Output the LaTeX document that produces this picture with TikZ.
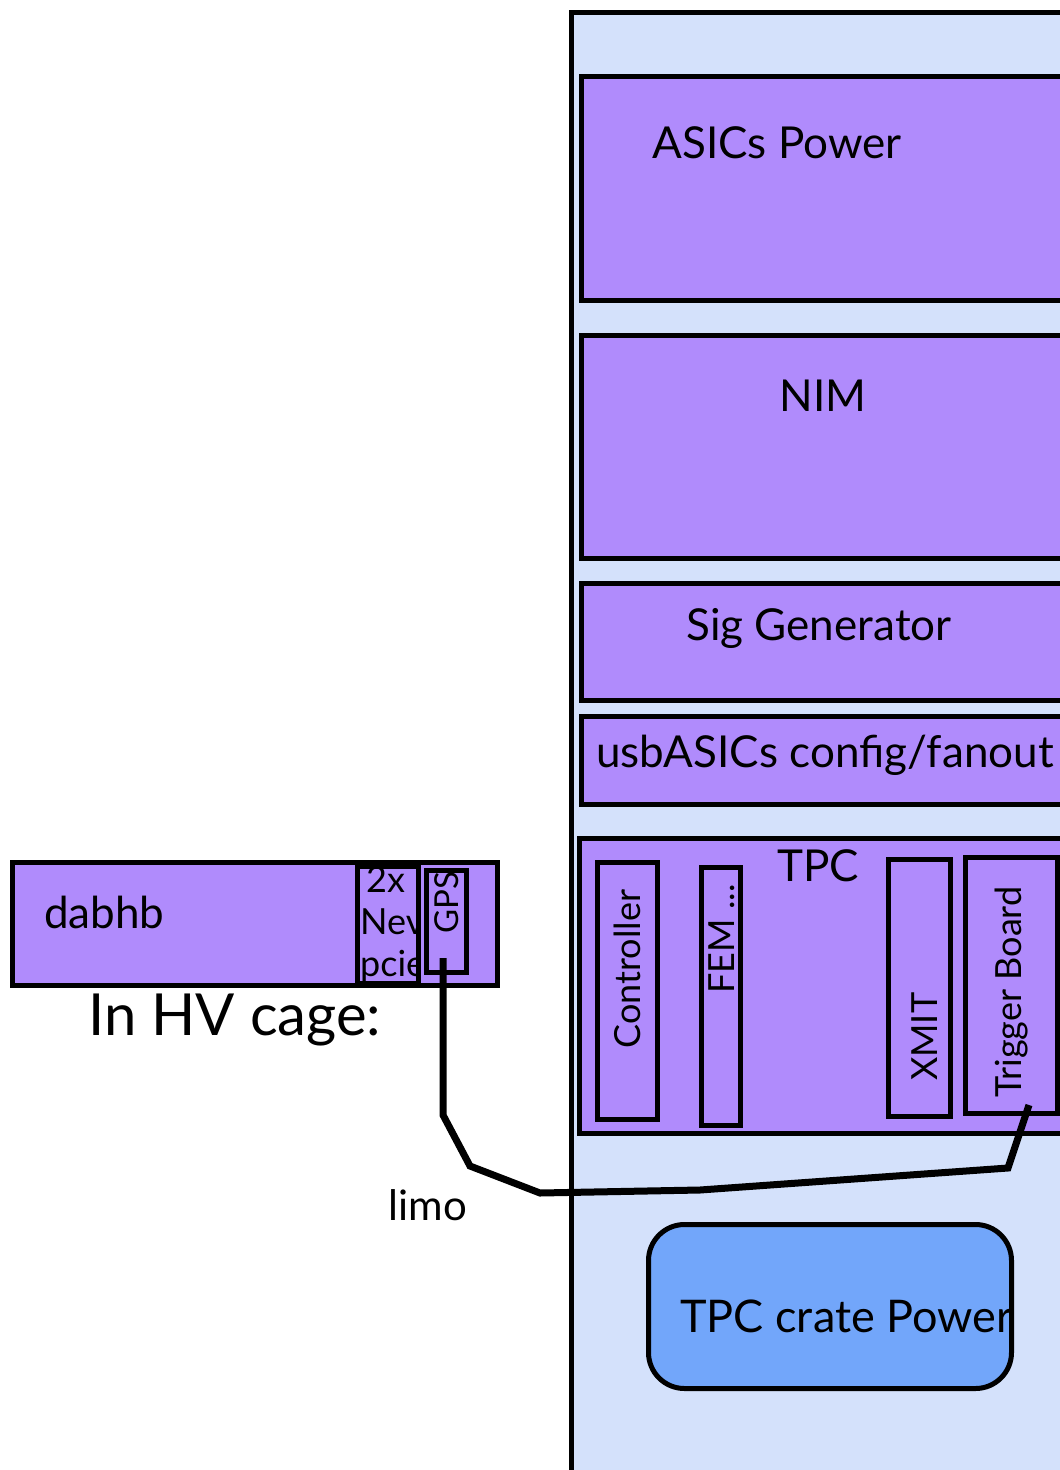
\documentclass[tikz,border=0pt]{standalone}
\usepackage{fontspec}
\setmainfont{Lato}
\definecolor{rackblue}{RGB}{212,225,251}
\definecolor{modpurple}{RGB}{176,139,252}
\definecolor{pwrblue}{RGB}{114,166,250}
\tikzset{
  box/.style={draw=black, line width=5pt, fill=modpurple, anchor=north west, inner sep=0pt, outer sep=0pt},
  lbl/.style={inner sep=0pt, font=\fontsize{44}{50}\selectfont},
  vlbl/.style={inner sep=0pt, rotate=90, font=\fontsize{36}{42}\selectfont},
  cable/.style={line width=7pt, line join=miter},
}
\begin{document}
\begin{tikzpicture}[x=1pt,y=-1pt]
\useasboundingbox (0,0) rectangle (1060,1470);
\clip (0,0) rectangle (1060,1470);
% rack
\node[box, fill=rackblue, minimum width=560, minimum height=1500] (rack) at (571,12) {};
% modules
\node[box, minimum width=500, minimum height=224] (asics) at (581,76) {};
\node[lbl] (asicst) at (777,143) {ASICs Power};
\node[box, minimum width=500, minimum height=223] (nim) at (581,335) {};
\node[lbl] (nimt) at (823,396) {NIM};
\node[box, minimum width=500, minimum height=117] (sig) at (581,583) {};
\node[lbl] (sigt) at (819,628) {Sig Generator};
\node[box, minimum width=500, minimum height=88] (usb) at (581,716) {};
\node[lbl] (usbt) at (825,755) {usbASICs config/fanout};
% TPC
\node[box, minimum width=500, minimum height=295] (tpc) at (579,838) {};
\node[lbl] (tpct) at (818,866) {TPC};
\node[box, minimum width=60, minimum height=257] (ctrl) at (597,862) {};
\node[vlbl] (ctrlt) at (627,969) {Controller};
\node[box, minimum width=39, minimum height=258] (fem) at (701,867) {};
\node[vlbl, anchor=west] (femt) at (722,994) {FEM ...};
\node[box, minimum width=62, minimum height=257] (xmit) at (888,859) {};
\node[vlbl, anchor=west] (xmitt) at (925,1081) {XMIT};
\node[box, minimum width=92, minimum height=256] (trig) at (965,857) {};
\node[vlbl, anchor=west] (trigt) at (1012,1098) {Trigger Board};
% TPC crate power
\node[draw=black, line width=5pt, fill=pwrblue, rounded corners=36pt, minimum width=363, minimum height=164, anchor=north west, inner sep=0pt] (pwr) at (646,1222) {};
\node[lbl, anchor=west, font=\fontsize{45}{50}\selectfont] (pwrt) at (680,1316) {TPC crate Power};
% dabhb
\node[box, minimum width=485, minimum height=123] (dab) at (12,862) {};
\node[lbl, anchor=west] (dabt) at (44,912) {dabhb};
\node[box, minimum width=61, minimum height=117] (nev) at (357,866) {};
\begin{scope}
\clip (359,868) rectangle (416,981);
\node[inner sep=0pt, font=\fontsize{36}{42}\selectfont, anchor=north west, align=left] (nevt) at (360,866) {\,2x\\Nev\\pcie};
\end{scope}
\node[box, minimum width=40, minimum height=102] (gps) at (426,870) {};
\node[vlbl, anchor=center, font=\fontsize{33}{40}\selectfont] (gpst) at (447,903) {GPS};
% label
\node[inner sep=0pt, font=\fontsize{58}{64}\selectfont] (hv) at (235,1020) {In HV cage:};
\node[inner sep=0pt, font=\fontsize{42}{48}\selectfont] (limo) at (428,1205) {limo};
% cable
\coordinate (ca) at (443,958);
\coordinate (cb) at (1029,1105);
\draw[cable] (ca) -- (443,1115) -- (470,1166) -- (540,1193) -- (700,1190) -- (1008,1168) -- (cb);
\end{tikzpicture}
\end{document}
